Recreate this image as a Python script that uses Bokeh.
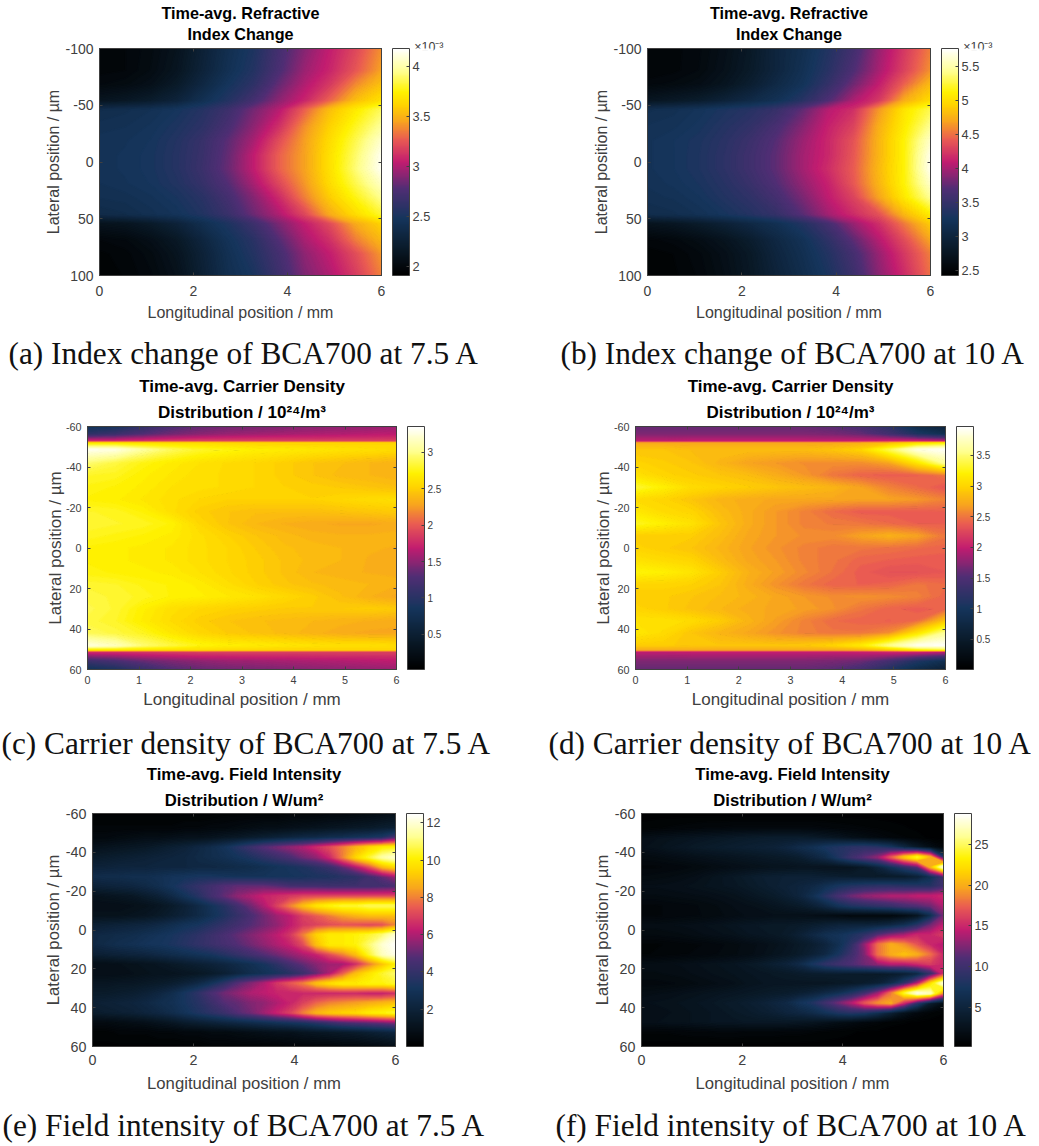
import numpy as np
from bokeh.plotting import figure
from bokeh.layouts import column, row
from bokeh.models import (LinearColorMapper, ColorBar, FixedTicker, LinearAxis, Range1d, Title)
from bokeh.embed import file_html
from bokeh.resources import INLINE

y_index = [-100,-81,-69,-54,-46,-31,-19,-6,6,19,31,46,54,69,81,100]
y_carrier_75 = [-60,-56,-52.5,-51.5,-48.5,-42,-36,-30,-24,-18,-12,-6,0,6,12,18,24,30,36,42,48,50,51,55.5,60]
y_carrier_10 = y_carrier_75
y_field = [-60,-52.5,-47.5,-42.5,-37.5,-32.5,-27.5,-22.5,-17.5,-12.5,-7.5,-2.5,2.5,7.5,12.5,17.5,22.5,27.5,32.5,37.5,42.5,47.5,52.5,60]

index_75 = [
[1.97,1.98,2.02,2.10,2.25,2.40,2.52,2.72,2.90,3.05,3.20,3.40],
[1.97,1.98,2.03,2.12,2.27,2.42,2.55,2.75,2.95,3.08,3.25,3.45],
[2.00,2.02,2.07,2.17,2.32,2.47,2.60,2.82,3.00,3.15,3.38,3.55],
[2.12,2.15,2.20,2.28,2.42,2.55,2.72,2.92,3.08,3.30,3.55,3.68],
[2.38,2.40,2.43,2.48,2.56,2.68,2.86,3.02,3.28,3.55,3.72,3.88],
[2.42,2.43,2.46,2.52,2.60,2.74,2.92,3.12,3.40,3.62,3.80,3.98],
[2.44,2.45,2.48,2.55,2.65,2.80,2.98,3.22,3.44,3.66,3.86,4.08],
[2.44,2.46,2.49,2.56,2.66,2.82,3.04,3.28,3.45,3.68,3.90,4.15],
[2.44,2.46,2.49,2.56,2.67,2.83,3.04,3.28,3.45,3.68,3.92,4.16],
[2.43,2.45,2.48,2.54,2.64,2.78,2.98,3.20,3.42,3.66,3.86,4.06],
[2.41,2.42,2.45,2.50,2.58,2.72,2.90,3.10,3.36,3.60,3.78,3.96],
[2.36,2.38,2.42,2.46,2.54,2.66,2.84,3.00,3.20,3.48,3.66,3.82],
[2.10,2.12,2.18,2.27,2.40,2.52,2.68,2.88,3.05,3.22,3.48,3.62],
[1.98,2.00,2.06,2.15,2.30,2.45,2.58,2.78,2.98,3.12,3.35,3.52],
[1.95,1.97,2.02,2.11,2.26,2.42,2.55,2.72,2.92,3.05,3.22,3.42],
[1.94,1.96,2.00,2.08,2.24,2.40,2.50,2.68,2.88,3.00,3.16,3.36],
]
index_10 = [
[2.50,2.52,2.56,2.66,2.80,3.00,3.15,3.35,3.60,3.95,4.25,4.55],
[2.50,2.52,2.57,2.68,2.82,3.00,3.18,3.40,3.68,4.00,4.30,4.62],
[2.55,2.58,2.63,2.73,2.88,3.06,3.22,3.48,3.80,4.10,4.45,4.80],
[2.75,2.80,2.86,2.96,3.08,3.20,3.40,3.68,4.02,4.25,4.75,5.00],
[3.15,3.18,3.24,3.32,3.40,3.52,3.75,4.05,4.20,4.65,5.05,5.30],
[3.20,3.22,3.28,3.38,3.48,3.65,3.88,4.12,4.30,4.75,5.10,5.45],
[3.22,3.26,3.32,3.42,3.55,3.72,3.95,4.15,4.38,4.78,5.15,5.60],
[3.22,3.26,3.33,3.44,3.58,3.75,3.98,4.15,4.40,4.78,5.15,5.70],
[3.22,3.26,3.33,3.44,3.58,3.75,3.98,4.18,4.42,4.80,5.15,5.72],
[3.20,3.24,3.30,3.40,3.53,3.70,3.92,4.12,4.40,4.78,5.15,5.60],
[3.18,3.20,3.26,3.36,3.46,3.62,3.84,4.08,4.30,4.70,5.08,5.45],
[3.12,3.15,3.20,3.28,3.38,3.50,3.72,3.98,4.18,4.38,4.80,5.10],
[2.72,2.76,2.84,2.94,3.06,3.18,3.36,3.62,3.95,4.20,4.55,4.90],
[2.52,2.55,2.62,2.72,2.86,3.04,3.20,3.44,3.74,4.05,4.35,4.70],
[2.48,2.50,2.56,2.66,2.80,3.00,3.16,3.36,3.62,3.95,4.25,4.55],
[2.47,2.49,2.54,2.64,2.78,2.96,3.12,3.30,3.55,3.90,4.18,4.50],
]
carrier_75 = [
[0.80,0.85,1.05,1.25,1.35,1.40,1.42,1.45,1.48,1.50,1.52,1.55],
[1.05,1.15,1.30,1.42,1.50,1.55,1.58,1.60,1.62,1.64,1.66,1.68],
[1.80,1.82,1.85,1.88,1.90,1.90,1.90,1.90,1.90,1.90,1.90,1.90],
[2.65,2.65,2.62,2.60,2.60,2.58,2.56,2.55,2.55,2.55,2.55,2.55],
[3.30,3.25,3.05,2.90,2.80,2.75,2.70,2.68,2.65,2.62,2.60,2.58],
[2.95,2.85,2.75,2.68,2.62,2.58,2.55,2.50,2.45,2.42,2.38,2.35],
[2.80,2.78,2.70,2.65,2.60,2.58,2.55,2.50,2.45,2.40,2.38,2.35],
[2.75,2.72,2.68,2.62,2.60,2.58,2.55,2.52,2.50,2.48,2.45,2.42],
[2.72,2.70,2.65,2.60,2.55,2.52,2.52,2.52,2.52,2.55,2.58,2.60],
[2.80,2.78,2.72,2.60,2.50,2.45,2.42,2.42,2.42,2.44,2.46,2.48],
[2.82,2.80,2.78,2.72,2.55,2.45,2.38,2.34,2.32,2.30,2.30,2.32],
[2.78,2.75,2.72,2.68,2.60,2.52,2.45,2.40,2.36,2.35,2.35,2.36],
[2.72,2.70,2.68,2.65,2.60,2.55,2.48,2.42,2.40,2.38,2.35,2.34],
[2.72,2.70,2.68,2.65,2.60,2.55,2.50,2.44,2.40,2.38,2.34,2.32],
[2.74,2.72,2.70,2.68,2.62,2.56,2.50,2.44,2.38,2.36,2.34,2.34],
[2.82,2.80,2.75,2.72,2.68,2.60,2.52,2.46,2.42,2.40,2.38,2.35],
[2.85,2.82,2.78,2.72,2.70,2.66,2.62,2.56,2.50,2.42,2.35,2.30],
[2.88,2.82,2.70,2.60,2.55,2.52,2.50,2.48,2.48,2.48,2.50,2.48],
[2.85,2.80,2.68,2.58,2.50,2.45,2.42,2.40,2.38,2.36,2.34,2.32],
[2.90,2.85,2.78,2.65,2.55,2.48,2.44,2.40,2.36,2.32,2.30,2.30],
[3.25,3.15,2.95,2.85,2.75,2.70,2.68,2.65,2.62,2.60,2.60,2.58],
[2.65,2.65,2.62,2.60,2.60,2.58,2.56,2.55,2.55,2.55,2.55,2.55],
[1.80,1.82,1.85,1.88,1.90,1.90,1.90,1.90,1.90,1.90,1.90,1.90],
[1.15,1.25,1.38,1.46,1.52,1.56,1.58,1.60,1.62,1.64,1.66,1.68],
[0.80,0.90,1.10,1.28,1.36,1.40,1.42,1.45,1.48,1.50,1.52,1.55],
]
carrier_10 = [
[1.60,1.60,1.60,1.60,1.60,1.60,1.60,1.55,1.45,1.20,0.80,0.65],
[1.72,1.72,1.72,1.72,1.72,1.72,1.72,1.70,1.62,1.42,1.10,0.90],
[2.00,2.00,2.02,2.02,2.02,2.02,2.02,2.02,2.05,2.10,2.10,2.00],
[2.75,2.75,2.75,2.75,2.75,2.75,2.75,2.75,2.80,2.90,3.10,3.20],
[2.90,2.90,2.85,2.85,2.85,2.85,2.85,2.90,3.00,3.40,3.85,3.95],
[3.00,2.95,2.90,2.80,2.70,2.65,2.60,2.60,2.60,2.70,3.10,3.60],
[3.10,3.00,2.95,2.90,2.85,2.75,2.65,2.50,2.42,2.38,2.40,2.50],
[3.35,3.20,3.05,3.00,2.95,2.90,2.85,2.80,2.70,2.55,2.45,2.35],
[3.05,3.00,2.90,2.80,2.75,2.72,2.72,2.72,2.70,2.70,2.65,2.55],
[3.15,3.05,3.00,2.85,2.75,2.65,2.55,2.45,2.38,2.38,2.38,2.40],
[3.30,3.20,3.10,2.90,2.75,2.65,2.55,2.52,2.50,2.45,2.40,2.40],
[2.95,2.95,2.95,2.85,2.72,2.65,2.60,2.60,2.70,2.78,2.70,2.50],
[3.00,2.95,2.90,2.80,2.70,2.62,2.55,2.50,2.50,2.48,2.45,2.42],
[3.10,3.05,3.00,2.85,2.72,2.65,2.55,2.50,2.42,2.40,2.38,2.38],
[3.25,3.20,3.12,2.95,2.78,2.68,2.58,2.48,2.38,2.32,2.32,2.36],
[3.00,3.00,2.98,2.90,2.75,2.62,2.50,2.42,2.40,2.42,2.50,2.45],
[2.95,2.95,2.90,2.85,2.80,2.72,2.65,2.60,2.62,2.60,2.55,2.42],
[3.00,2.95,2.88,2.82,2.75,2.72,2.68,2.62,2.50,2.42,2.38,2.42],
[3.10,3.10,3.05,2.95,2.80,2.68,2.55,2.45,2.42,2.40,2.45,2.90],
[3.15,3.05,2.90,2.80,2.72,2.62,2.55,2.50,2.50,2.60,3.10,3.60],
[2.95,2.95,2.92,2.90,2.90,2.90,2.92,3.00,3.15,3.55,3.90,3.95],
[2.75,2.75,2.75,2.75,2.75,2.75,2.75,2.75,2.80,2.95,3.20,3.30],
[2.00,2.00,2.02,2.02,2.02,2.02,2.02,2.02,2.05,2.10,2.10,2.00],
[1.72,1.72,1.72,1.72,1.72,1.72,1.72,1.70,1.65,1.45,1.12,0.90],
[1.60,1.60,1.60,1.60,1.60,1.60,1.60,1.55,1.40,1.10,0.80,0.60],
]
field_75 = [
[.1,.1,.1,.1,.1,.1,.1,.1,.1,.1,.2,.2,.2,.2,.2,.3,.3,.3,.4,.4,.5,.6,.7,.9],
[.3,.3,.3,.3,.3,.3,.3,.4,.4,.5,.5,.6,.7,.8,.8,.9,1,1.1,1.2,1.3,1.4,1.5,1.7,1.8],
[.5,.5,.6,.7,.8,.8,.9,1,1,1.1,1.3,1.4,1.6,1.8,2,2.2,2.4,2.5,2.7,2.8,3,3.2,3.5,4.5],
[1,1.1,1.2,1.3,1.4,1.6,1.8,2,2.3,2.6,3,3.6,4.2,4.8,5.2,5.6,6,6.6,7.2,8,8.8,9.5,10,10.2],
[1.5,1.6,1.7,1.8,1.9,2,2.1,2.2,2.4,2.6,2.8,3.1,3.4,3.8,4.2,4.6,5.2,5.6,6.5,8,9.5,10.5,11.5,12],
[2,2,2.1,2.1,2.1,2.2,2.2,2.2,2.3,2.3,2.4,2.5,2.6,2.8,3,3.2,3.4,3.8,4.2,5,6,7.2,8.8,9.5],
[2.5,2.6,2.6,2.7,2.7,2.8,3,3.1,3.2,3.2,3.1,3,3,3,3.1,3.1,3.2,3.3,3.4,3.6,3.8,4.4,5,5.8],
[1.9,2,2.1,2.2,2.4,2.7,3.1,3.6,4,4.4,4.8,5,5,5,4.8,4.5,4.4,4.4,4.3,4.3,4.3,4.3,4.4,4.5],
[1,1.1,1.2,1.3,1.6,1.9,2.4,3,3.6,4.4,5,5.6,6,6.4,6.6,6.8,7,7,7,7,7,7,7,7],
[.8,.8,.8,.9,1,1.2,1.5,1.9,2.4,3,3.6,4.4,5.2,6,7,8,9,9.8,10.2,10.5,10.5,10.8,10.8,10.8],
[1,1,1,1.1,1.2,1.4,1.7,2,2.4,2.9,3.4,4,4.6,5.2,5.8,6.2,7,7.5,8,8.5,8.8,9,9,9],
[1.8,1.9,2,2.1,2.2,2.4,2.7,3,3.2,3.6,4,4.4,4.8,5.2,5.6,6.2,6.8,7,7.2,7.3,7.2,7,7.2,8],
[2.3,2.4,2.5,2.6,2.8,3,3.2,3.5,3.8,4.2,4.6,5,5.4,5.8,6.2,6.8,8,9.4,10,10,10.2,10.5,11,12],
[2.3,2.5,2.7,2.8,3,3.1,3.3,3.6,3.9,4.2,4.5,4.8,5.2,5.6,6,6.4,7.2,9,10,10,10.2,11,12,12.5],
[1.8,1.9,2,2.1,2.2,2.4,2.6,2.8,3,3.2,3.6,4,4.4,4.8,5.2,5.6,6,6.4,7.2,8,9,10.5,11.8,12.3],
[.8,.8,.9,1,1.1,1.2,1.4,1.6,1.8,2,2.2,2.5,2.8,3.2,3.8,4.5,5,5.5,5.8,5.8,6.5,7.8,9,10],
[.8,.8,.8,.9,1,1.1,1.1,1.2,1.3,1.5,1.8,2.2,2.6,2.9,3.2,3.6,4.2,5,6,7.5,9,9.8,10.5,11],
[1.2,1.2,1.3,1.3,1.4,1.5,1.7,2,2.4,3,3.8,4.8,5.4,6,6.8,7.4,8,9,9.6,10,10,10.2,10.2,10.5],
[1.5,1.5,1.6,1.7,1.9,2.2,2.6,3.2,3.8,4.6,5.2,5.6,6,6.2,6.4,6.4,6.5,6.4,6.4,6.4,6.4,6.2,6.2,6.5],
[1.8,1.9,2,2.1,2.3,2.6,2.8,3.2,3.6,4.2,4.8,5,5.4,5.6,6,6.4,7,7.6,8,8.2,8.4,8.6,8.8,9],
[1.6,1.7,1.8,1.9,2.1,2.3,2.6,3,3.4,3.8,4.2,4.8,5.2,5.8,6.4,7,8,8.8,9.2,9.4,9.6,10,10.2,10.5],
[.6,.6,.7,.8,.9,1.1,1.3,1.6,1.8,2,2.2,2.4,2.6,2.8,3,3.2,3.4,3.8,4.2,4.6,4.8,5,5.2,5.5],
[.2,.2,.3,.3,.3,.4,.4,.5,.5,.6,.6,.7,.8,.9,1,1,1.2,1.3,1.4,1.5,1.6,1.8,2,2.2],
[.1,.1,.1,.1,.1,.1,.1,.1,.1,.2,.2,.2,.2,.2,.2,.3,.3,.3,.3,.4,.4,.5,.6,.8],
]
field_10 = [
[.3,.3,.3,.3,.3,.3,.3,.3,.3,.3,.3,.3,.3,.3,.3,.3,.3,.3,.3,.3,.3,.3,.3,.3],
[.6,.7,.8,.9,1,1.1,1.1,1.2,1.2,1.2,1.2,1.2,1.2,1.2,1.1,1,.9,.8,.7,.6,.5,.4,.3,.3],
[2,2.2,2.4,2.6,2.8,3,3.2,3.4,3.6,3.7,3.8,3.8,3.8,3.6,3.2,2.8,2.2,1.8,1.4,1,.8,.6,.4,.3],
[2.2,2.4,2.8,3,3.4,3.6,3.8,4,4.2,4.4,4.6,5.2,6,6.6,7.6,8.2,8.8,9,8.6,7.6,5.5,3.5,2,1],
[1.5,1.6,1.8,2,2.2,2.4,2.6,2.8,3,3.2,3.4,3.6,4,5,6,8,10,11.5,13,17,21,24,20,8],
[1,1,1.1,1.2,1.4,1.6,1.8,2,2.2,2.4,2.6,2.6,2.8,2.8,2.6,2.6,2.8,3.5,5,7,9,11,20,28],
[1.4,1.5,1.6,1.8,2,2.4,2.8,3.2,3.6,4,4.2,4.4,4.4,4.4,4.2,4,3.8,3.6,3.4,3.4,3.6,4.4,6.5,10],
[2,2,2.1,2.2,2.4,2.6,2.8,3,3.4,3.8,4.2,4.6,5,5.6,6.6,7.6,8.2,8.6,8.8,8.8,8.6,8.4,8.4,10],
[1.6,1.6,1.7,1.8,1.9,2,2.2,2.4,2.8,3.2,3.6,4.2,5,6.5,8.5,10.5,12,13,13.5,14,14,14.5,14.5,15],
[1,1,1.1,1.2,1.3,1.5,1.7,2,2.2,2.4,2.8,3.2,3.6,4.4,5.5,7,8,8.5,9,9.5,10.5,11,12,14],
[1,1,1.1,1.2,1.3,1.4,1.6,1.8,2,2,2.2,2.2,2.2,2,1.8,1.4,1.1,1,1,1,1.5,2.5,6,12],
[1.8,1.8,1.9,2,2.1,2.3,2.5,2.8,3,3.2,3.4,3.4,3.6,4,4.4,4.8,4.8,4.8,5,5.5,6.5,8.5,12,14.5],
[1.4,1.4,1.5,1.6,1.8,2,2.2,2.4,2.8,3,3.2,3.6,4.4,5.5,6.5,7,7.8,9,11,12.5,13.5,15,15,16],
[.7,.7,.8,.9,1,1.1,1.3,1.5,1.8,2,2.4,2.8,3.4,4,5,6.5,9,13,18,20,19,17,15,14],
[.7,.8,.9,1,1.1,1.2,1.4,1.6,1.8,2.1,2.6,3,3.6,4.4,5.5,7.5,10,12.5,18,20,21,20,18,15],
[1.8,1.8,1.9,2,2.2,2.4,2.6,2.8,3.2,3.6,4.2,4.8,5.8,7.5,9,10,11,12,13,14,14,15,16,15],
[1.6,1.6,1.7,1.8,2,2.2,2.4,2.6,2.8,3,3.2,3.4,3.6,3.8,3.8,3.8,3.6,3.4,3.4,3.6,4,5,9,15],
[1.2,1.2,1.3,1.4,1.6,1.8,2,2.2,2.6,2.8,3,3,3,3,3,3.2,3.4,3.8,4.4,6,9,14,22,28],
[1.8,1.9,2,2.2,2.4,2.6,2.8,3,3.2,3.4,3.6,3.8,4.2,4.8,5.6,6.5,8,10,13,18,24,28,27,18],
[2.2,2.3,2.4,2.6,2.8,3,3.4,3.6,4,4.4,5,5.6,7,8,10,12,14,17,19,20,15,9,4,2],
[2,2,2.2,2.4,2.6,2.8,3,3.4,3.6,4,4.4,5,5.4,6,7,8,8.5,8,6.5,4.5,2.5,1.4,.8,.5],
[2.2,2.2,2.4,2.4,2.6,2.8,3,3,3.2,3.2,3.2,3.2,3,2.8,2.4,2,1.6,1.2,.9,.6,.5,.4,.3,.3],
[.8,.8,.8,.9,1,1,1.1,1.1,1,1,1,.9,.9,.8,.7,.6,.5,.4,.4,.3,.3,.3,.3,.3],
[.3,.3,.3,.3,.3,.3,.3,.3,.3,.3,.3,.3,.3,.3,.3,.3,.3,.3,.3,.3,.3,.3,.3,.3],
]

title_index = ["Time-avg. Refractive", "Index Change"]
title_carrier = ["Time-avg. Carrier Density", "Distribution / 10²⁴/m³"]
title_field = ["Time-avg. Field Intensity", "Distribution / W/um²"]
x_label = "Longitudinal position / mm"
y_label = "Lateral position / µm"
captions = ["(a) Index change of BCA700 at 7.5 A", "(b) Index change of BCA700 at 10 A",
            "(c) Carrier density of BCA700 at 7.5 A", "(d) Carrier density of BCA700 at 10 A",
            "(e) Field intensity of BCA700 at 7.5 A", "(f) Field intensity of BCA700 at 10 A"]

stops = [(0, "#000000"), (.12, "#0a1b2a"), (.25, "#15355c"), (.38, "#4f2e74"), (.5, "#c21c70"),
         (.6, "#ea5c52"), (.68, "#f8a51e"), (.75, "#ffd200"), (.81, "#fff200"), (.9, "#ffff90"), (1, "#ffffff")]
def colors_at(t):
    fr = np.array([s[0] for s in stops])
    rgb = np.array([[int(s[1][i:i+2], 16) for i in (1, 3, 5)] for s in stops])
    ch = [np.interp(t, fr, rgb[:, k]) for k in range(3)]
    return ["#%02x%02x%02x" % (round(a), round(b), round(c)) for a, b, c in zip(*ch)]
N_LEVELS = 96
INK = "#404040"

def panel(z, ys, low, high, title, xticks, yticks, ylim, cticks, geom, cap, cap_left, cap_gap,
          tick_px, cb_px, label_px, title_px, xtick_st, xstand, ystand, title_gaps, mult=None):
    L, W, R, T, H, B = geom
    mapper = LinearColorMapper(palette=colors_at(np.linspace(0, 1, 256)), low=low, high=high)
    p = figure(frame_width=W, frame_height=H, min_border_left=L, min_border_right=R,
               min_border_top=T, min_border_bottom=B, toolbar_location=None, output_backend="svg",
               x_range=Range1d(0, 6), y_range=Range1d(ylim, -ylim), title=None,
               x_axis_label=x_label, y_axis_label=y_label, background_fill_color="#101820",
               border_fill_color=None)
    z = np.array(z, dtype=float)
    xs = np.linspace(0, 6, z.shape[1])
    levels = np.linspace(low - 1e-6, high + 1e-6, N_LEVELS + 1)
    p.contour(xs, np.array(ys, dtype=float), z, levels=levels,
              fill_color=colors_at((np.arange(N_LEVELS) + .5) / N_LEVELS),
              line_color=colors_at(np.arange(N_LEVELS + 1) / N_LEVELS), line_width=1.5)
    p.grid.visible = False
    p.outline_line_color = INK
    p.outline_line_width = 1
    bottom, left = p.below[0], p.left[0]
    top = LinearAxis(ticker=FixedTicker(ticks=xticks), major_label_overrides={t: "" for t in xticks})
    right = LinearAxis(ticker=FixedTicker(ticks=yticks), major_label_overrides={t: "" for t in yticks})
    p.add_layout(top, "above")
    p.add_layout(right, "right")
    for ax, ticks in ((bottom, xticks), (left, yticks), (top, xticks), (right, yticks)):
        ax.ticker = FixedTicker(ticks=ticks)
        ax.major_tick_in = 3
        ax.major_tick_out = 0
        ax.minor_tick_line_color = None
        ax.axis_line_color = INK
        ax.major_tick_line_color = INK
        ax.major_label_text_font = "Liberation Sans"
        ax.major_label_text_font_size = f"{tick_px}px"
        ax.major_label_text_color = INK
        ax.major_label_standoff = 0
    left.major_label_overrides = {t: str(t) for t in yticks}
    bottom.major_label_standoff = xtick_st
    left.major_label_standoff = 6
    for ax, st in ((bottom, xstand), (left, ystand)):
        ax.axis_label_text_font = "Liberation Sans"
        ax.axis_label_text_font_size = f"{label_px}px"
        ax.axis_label_text_font_style = "normal"
        ax.axis_label_text_color = INK
        ax.axis_label_standoff = st
    cb = ColorBar(color_mapper=mapper, ticker=FixedTicker(ticks=cticks), width=17, height=H, padding=0, margin=0,
                  location=(11, 0), major_tick_in=3, major_tick_out=0, major_tick_line_color=INK,
                  minor_tick_line_color=None, bar_line_color=INK, major_label_text_font="Liberation Sans",
                  major_label_text_font_size=f"{cb_px}px", major_label_text_color=INK, label_standoff=3)
    p.add_layout(cb, "right")
    if mult:
        p.add_layout(Title(text=mult, align="right", offset=-62, standoff=-10, text_font="Liberation Sans",
                           text_font_size="12.5px", text_font_style="normal", text_color=INK), "above")
    for line, gap in ((title[1], title_gaps[0]), (title[0], title_gaps[1])):
        p.add_layout(Title(text=line, align="center", text_font="Liberation Sans", text_font_size=f"{title_px}px",
                           text_font_style="bold", text_color="black", standoff=gap), "above")
    p.add_layout(Title(text=cap, align="left", offset=cap_left, standoff=cap_gap, text_font="Liberation Serif",
                       text_font_size="31.3px", text_font_style="normal", text_color="#111111"), "below")
    return p

yt_i = [-100,-50,0,50,100]
yt_c = [-60,-40,-20,0,20,40,60]
pa = panel(index_75, y_index, 1.91, 4.18, title_index, [0,2,4,6], yt_i, 100, [2,2.5,3,3.5,4],
           (99,282,139,47,227,110), captions[0], -91, 20, 14, 12.8, 16, 16.2, 10, 5, 0, (-1, 3), "×10⁻³")
pb = panel(index_10, y_index, 2.43, 5.76, title_index, [0,2,4,6], yt_i, 100, [2.5,3,3.5,4,4.5,5,5.5],
           (127,283,101,47,227,110), captions[1], -87, 20, 14, 12.8, 16, 16.2, 10, 5, 0, (-1, 3), "×10⁻³")
pc = panel(carrier_75, y_carrier_75, 0.02, 3.35, title_carrier, [0,1,2,3,4,5,6], yt_c, 60, [.5,1,1.5,2,2.5,3],
           (87,309,124,56,243,108), captions[2], -86, 24, 10.8, 10, 17, 17, 6, 3, -2, (10, 0))
pd_ = panel(carrier_10, y_carrier_10, 0.01, 3.97, title_carrier, [0,1,2,3,4,5,6], yt_c, 60, [.5,1,1.5,2,2.5,3,3.5],
           (115,310,86,56,243,108), captions[3], -87, 24, 10.8, 10, 17, 17, 6, 3, -2, (10, 0))
pe = panel(field_75, y_field, 0, 12.5, title_field, [0,2,4,6], yt_c, 60, [2,4,6,8,10,12],
           (92,303,125,54,233,110), captions[4], -90, 21, 14.3, 12.5, 16.7, 16.7, 8, 6, 0, (7, 4))
pf = panel(field_10, y_field, 0.16, 28.8, title_field, [0,2,4,6], yt_c, 60, [5,10,15,20,25],
           (121,302,88,54,233,110), captions[5], -86, 21, 14.3, 12.5, 16.7, 16.7, 8, 6, 0, (7, 4))

page = column(row(pa, pb, spacing=0),
              row(pc, pd_, spacing=0, margin=(-15, 0, 0, 0)),
              row(pe, pf, spacing=0, margin=(-18, 0, -9, 0)), spacing=0)
open("out.html", "w").write(file_html(page, INLINE))
